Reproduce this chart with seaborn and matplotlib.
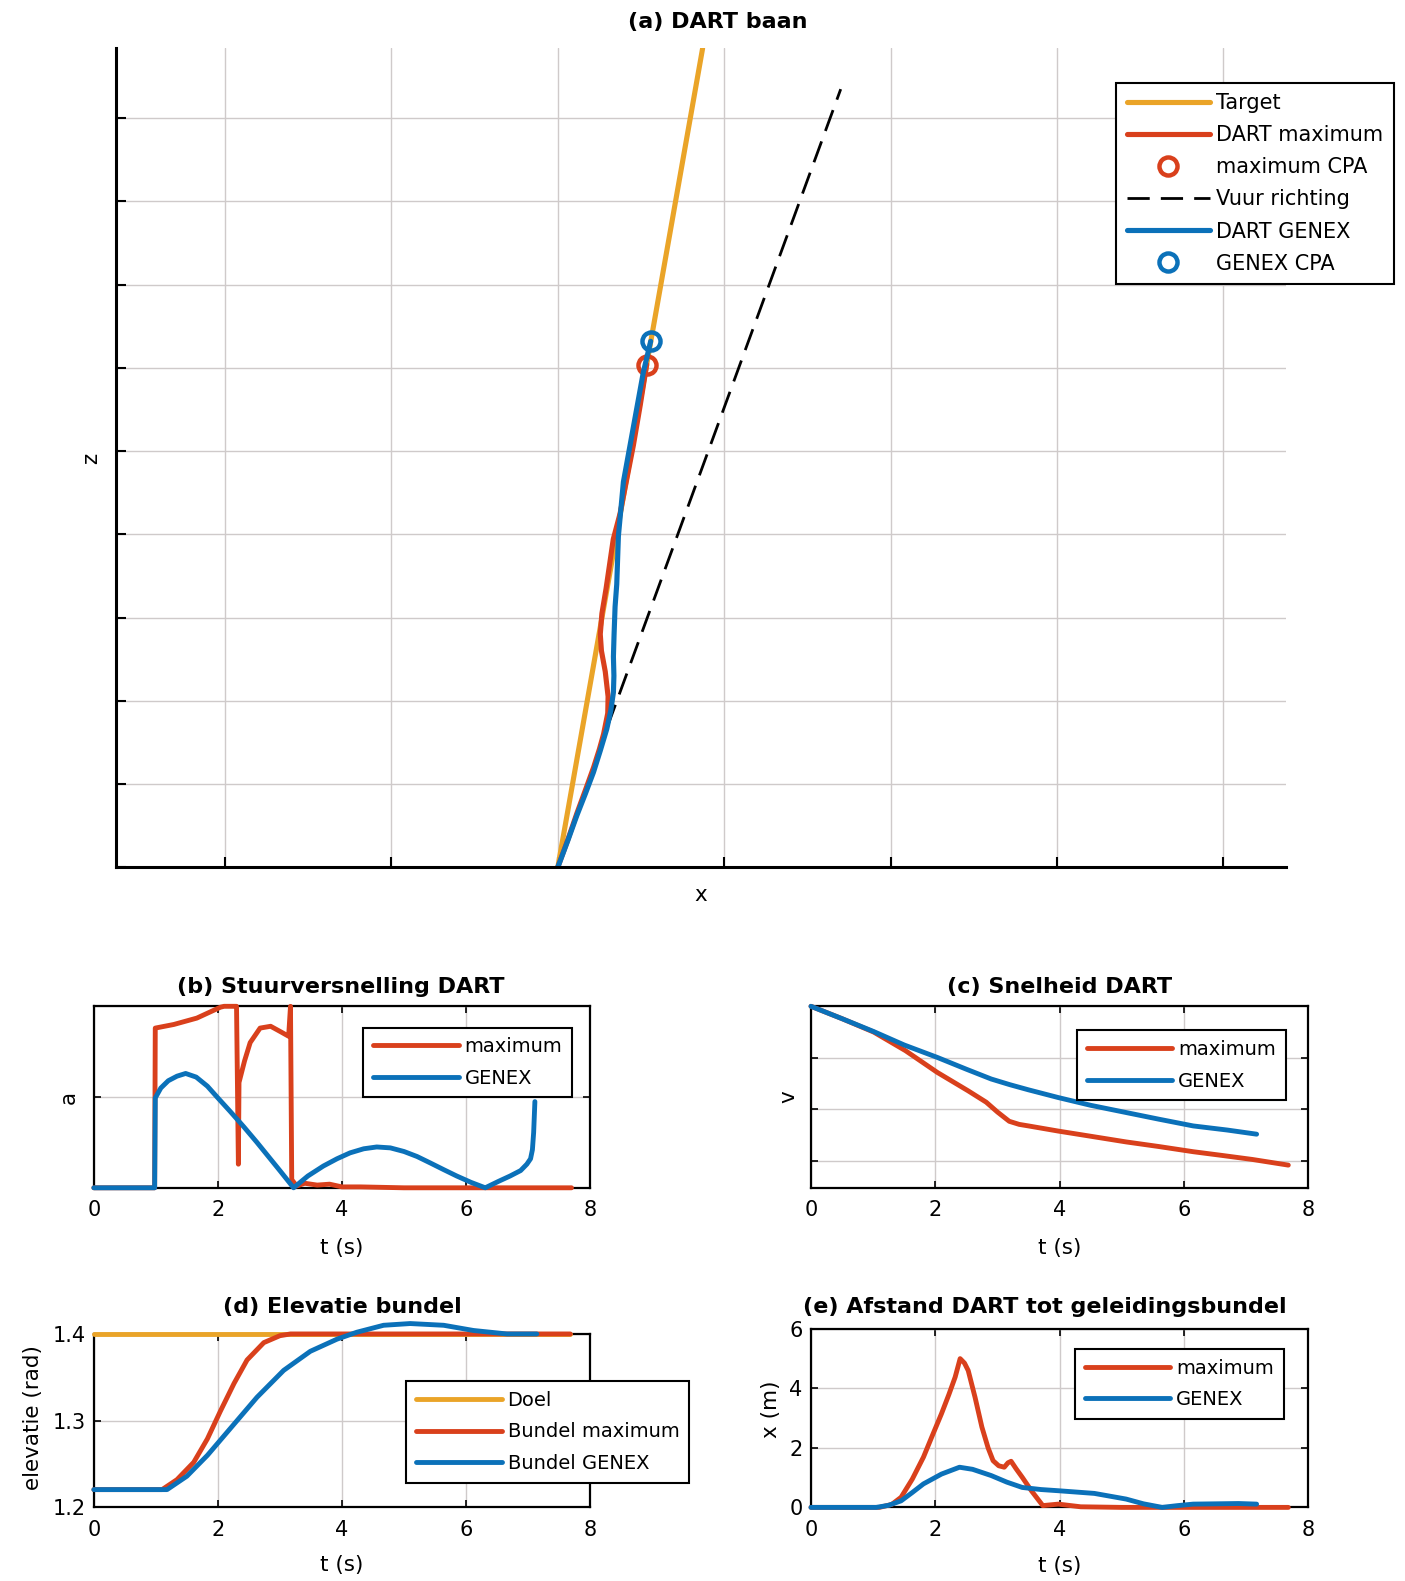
import numpy as np
import pandas as pd
import matplotlib
matplotlib.use("Agg")
import matplotlib.pyplot as plt
import seaborn as sns

ORANGE = "#EAA428"
RED = "#D9401C"
BLUE = "#0B71B9"
GRID = "#cfcaca"

# (a) DART baan -- positions in grid units
target_x = [0.0, 0.87]
target_z = [0.0, 9.84]
max_x = [0.0, 0.06, 0.115, 0.17, 0.215, 0.25, 0.275, 0.30, 0.302, 0.285, 0.262, 0.255, 0.265,
         0.29, 0.333, 0.374, 0.41, 0.454, 0.495, 0.534]
max_z = [0.0, 0.33, 0.65, 0.95, 1.2, 1.42, 1.6, 1.85, 2.05, 2.35, 2.6, 2.8, 3.05,
         3.35, 3.94, 4.25, 4.62, 5.07, 5.55, 6.04]
genex_x = [0.0, 0.06, 0.114, 0.165, 0.214, 0.255, 0.294, 0.318, 0.334, 0.337, 0.334, 0.338,
           0.344, 0.354, 0.364, 0.394, 0.454, 0.514, 0.558]
genex_z = [0.0, 0.32, 0.62, 0.88, 1.14, 1.4, 1.66, 1.88, 2.10, 2.3, 2.53, 2.8,
           3.13, 3.4, 3.98, 4.63, 5.29, 5.95, 6.32]
max_cpa = (0.534, 6.04)
genex_cpa = (0.558, 6.32)
fire_x = [0.30, 1.70]
fire_z = [1.70, 9.35]

# (b) Stuurversnelling
b_t_max = [0, 0.98, 0.99, 1.29, 1.66, 2.04, 2.10, 2.28, 2.30, 2.33, 2.34, 2.43, 2.52, 2.68,
           2.85, 3.01, 3.14, 3.17, 3.19, 3.27, 3.4, 3.6, 3.8, 4.0, 4.3, 5.0, 7.7]
b_a_max = [0, 0, 1.76, 1.80, 1.87, 1.99, 2.0, 2.0, 2.0, 0.26, 1.16, 1.40, 1.60, 1.76,
           1.78, 1.72, 1.67, 2.0, 0.09, 0.02, 0.05, 0.03, 0.04, 0.01, 0.01, 0.0, 0.0]
b_t_gen = [0, 0.98, 0.99, 1.08, 1.2, 1.34, 1.48, 1.65, 1.83, 2.0, 2.2, 2.42, 2.63, 2.82, 3.01,
           3.22, 3.45, 3.70, 3.92, 4.13, 4.35, 4.56, 4.78, 5.0, 5.21, 5.42, 5.64, 5.85, 6.08,
           6.31, 6.52, 6.71, 6.88, 6.98, 7.04, 7.07, 7.09, 7.11]
b_a_gen = [0, 0, 0.99, 1.10, 1.18, 1.23, 1.26, 1.22, 1.12, 0.99, 0.84, 0.67, 0.50, 0.34, 0.18,
           0.0, 0.13, 0.24, 0.32, 0.385, 0.43, 0.45, 0.44, 0.40, 0.345, 0.275, 0.20, 0.13, 0.06,
           0.0, 0.07, 0.13, 0.19, 0.26, 0.32, 0.42, 0.61, 0.95]

# (c) Snelheid
c_t_max = [0, 0.5, 1.01, 1.52, 2.03, 2.53, 2.82, 3.0, 3.19, 3.35, 3.5, 3.98, 4.5, 5.07, 5.6,
           6.15, 6.6, 7.1, 7.68]
c_v_max = [4.0, 3.76, 3.5, 3.14, 2.72, 2.36, 2.14, 1.95, 1.77, 1.71, 1.68, 1.58, 1.48, 1.37,
           1.28, 1.18, 1.11, 1.03, 0.92]
c_t_gen = [0, 0.5, 1.01, 1.5, 2.03, 2.5, 2.9, 3.2, 3.5, 3.98, 4.5, 5.07, 5.6, 6.15, 6.7, 7.17]
c_v_gen = [4.0, 3.76, 3.51, 3.25, 3.01, 2.78, 2.59, 2.48, 2.38, 2.23, 2.08, 1.94, 1.81, 1.68,
           1.60, 1.52]

# (d) Elevatie bundel
d_t_doel = [0, 7.68]
d_e_doel = [1.4, 1.4]
d_t_max = [0, 1.10, 1.34, 1.61, 1.83, 2.04, 2.26, 2.47, 2.74, 3.0, 3.17, 7.68]
d_e_max = [1.2205, 1.2205, 1.232, 1.252, 1.279, 1.311, 1.343, 1.370, 1.390, 1.398, 1.4, 1.4]
d_t_gen = [0, 1.18, 1.5, 1.83, 2.2, 2.63, 3.06, 3.49, 3.92, 4.24, 4.67, 5.1, 5.64, 6.12,
           6.66, 7.14]
d_e_gen = [1.2205, 1.2205, 1.236, 1.26, 1.291, 1.327, 1.358, 1.38, 1.394, 1.402, 1.41, 1.412,
           1.41, 1.404, 1.4, 1.4]

# (e) Afstand tot geleidingsbundel
e_t_max = [0, 1.1, 1.3, 1.45, 1.63, 1.81, 1.95, 2.1, 2.22, 2.32, 2.40, 2.47, 2.53, 2.64, 2.75,
           2.85, 2.93, 3.02, 3.11, 3.17, 3.22, 3.3, 3.40, 3.55, 3.73, 3.98, 4.34, 5.0, 7.68]
e_x_max = [0, 0, 0.1, 0.34, 0.95, 1.69, 2.4, 3.15, 3.8, 4.38, 5.0, 4.85, 4.6, 3.7, 2.7,
           2.0, 1.57, 1.4, 1.35, 1.5, 1.55, 1.3, 1.01, 0.55, 0.06, 0.11, 0.02, 0.0, 0.0]
e_t_gen = [0, 1.05, 1.25, 1.45, 1.63, 1.81, 2.1, 2.39, 2.6, 2.9, 3.15, 3.40, 3.7, 3.98, 4.56,
           5.07, 5.35, 5.65, 5.9, 6.15, 6.88, 7.17]
e_x_gen = [0, 0, 0.07, 0.22, 0.5, 0.79, 1.12, 1.35, 1.28, 1.07, 0.85, 0.67, 0.6, 0.56, 0.47,
           0.28, 0.12, 0.0, 0.06, 0.11, 0.13, 0.11]


def line(ax, x, y, color, label, lw=3.5, **kw):
	sns.lineplot(x=x, y=y, sort=False, estimator=None, color=color, lw=lw,
				 label=label, ax=ax, **kw)


def legend(ax, anchor, fs=14, hl=4.4, ls=0.64):
	leg = ax.legend(loc='upper left', bbox_to_anchor=anchor, fontsize=fs, handlelength=hl,
					handletextpad=0.3, borderpad=0.5, labelspacing=ls, borderaxespad=0,
					frameon=True, fancybox=False, framealpha=1, edgecolor='black')
	leg.get_frame().set_linewidth(1.5)
	leg.set_zorder(5)
	return leg


def style_small(ax, title, tx, ty, ylabel, ylx, yly, ylim, yticks, ylabels):
	ax.set_xlim(0, 8)
	ax.set_ylim(*ylim)
	ax.set_xticks([0, 2, 4, 6, 8])
	ax.set_yticks(yticks)
	ax.set_yticklabels(ylabels)
	ax.grid(True, color=GRID, lw=1.0)
	ax.set_axisbelow(True)
	for s in ax.spines.values():
		s.set_visible(True)
		s.set_color('black')
		s.set_linewidth(1.6)
	ax.tick_params(direction='in', length=5, width=1.2, colors='black', labelsize=15,
				   top=True, right=True, left=True, bottom=True)
	ax.tick_params(axis='x', pad=9)
	ax.tick_params(axis='y', pad=6)
	ax.set_xlabel('t (s)', fontsize=15.5)
	ax.xaxis.set_label_coords(0.5, -0.33)
	ax.xaxis.label.set_va('center')
	ax.set_ylabel(ylabel, fontsize=15.5)
	ax.yaxis.set_label_coords(ylx, yly)
	ax.yaxis.label.set_va('center')
	ax.text(tx, ty, title, transform=ax.transAxes, ha='center', va='center',
			fontsize=16, fontweight='bold')


def main():
	sns.set_theme(style="whitegrid")
	plt.rcParams['font.family'] = ['DejaVu Sans']
	plt.rcParams['axes.facecolor'] = 'white'
	plt.rcParams['text.color'] = 'black'
	plt.rcParams['axes.labelcolor'] = 'black'

	fig = plt.figure(figsize=(14.05, 15.81), dpi=100)

	# (a)
	ax = fig.add_axes([0.0826, 0.4515, 0.8327, 0.5179])
	line(ax, target_x, target_z, ORANGE, 'Target', lw=3.7)
	line(ax, max_x, max_z, RED, 'DART maximum', lw=3.7)
	sns.lineplot(x=[max_cpa[0]], y=[max_cpa[1]], marker='o', ms=13, mfc='none', mec=RED,
				 mew=3.2, ls='', label='maximum CPA', ax=ax)
	sns.lineplot(x=fire_x, y=fire_z, color='black', lw=2, linestyle=(0, (8, 4)),
				 label='Vuur richting', ax=ax)
	line(ax, genex_x, genex_z, BLUE, 'DART GENEX', lw=3.7)
	sns.lineplot(x=[genex_cpa[0]], y=[genex_cpa[1]], marker='o', ms=13, mfc='none', mec=BLUE,
				 mew=3.2, ls='', label='GENEX CPA', ax=ax)
	ax.set_xlim(-2.655, 4.376)
	ax.set_ylim(0, 9.84)
	ax.set_xticks(range(-2, 5))
	ax.set_yticks(range(0, 10))
	ax.set_xticklabels([])
	ax.set_yticklabels([])
	ax.grid(True, color=GRID, lw=1.0)
	ax.set_axisbelow(True)
	ax.spines['top'].set_visible(False)
	ax.spines['right'].set_visible(False)
	for s in ['left', 'bottom']:
		ax.spines[s].set_color('black')
		ax.spines[s].set_linewidth(2.2)
	ax.tick_params(direction='in', length=7, width=1.5, colors='black', left=True, bottom=True)
	ax.set_xlabel('x', fontsize=15.5)
	ax.xaxis.set_label_coords(0.5, -0.0345)
	ax.xaxis.label.set_va('center')
	ax.set_ylabel('z', fontsize=15.5)
	ax.yaxis.set_label_coords(-0.0216, 0.499)
	ax.yaxis.label.set_va('center')
	ax.text(0.514, 1.032, '(a) DART baan', transform=ax.transAxes, ha='center', va='center',
			fontsize=16, fontweight='bold')
	legend(ax, (0.855, 0.958), fs=15, hl=4.0, ls=0.58)

	# (b)
	ax = fig.add_axes([0.0668, 0.2487, 0.3532, 0.1148])
	line(ax, b_t_max, b_a_max, RED, 'maximum', clip_on=False, zorder=3)
	line(ax, b_t_gen, b_a_gen, BLUE, 'GENEX', clip_on=False, zorder=3)
	style_small(ax, '(b) Stuurversnelling DART', 0.498, 1.106, 'a', -0.051, 0.5,
				(0, 2), [0, 1, 2], ['', '', ''])
	legend(ax, (0.543, 0.883))

	# (c)
	ax = fig.add_axes([0.5772, 0.2487, 0.3539, 0.1148])
	line(ax, c_t_max, c_v_max, RED, 'maximum', clip_on=False, zorder=3)
	line(ax, c_t_gen, c_v_gen, BLUE, 'GENEX', clip_on=False, zorder=3)
	style_small(ax, '(c) Snelheid DART', 0.499, 1.106, 'v', -0.045, 0.5,
				(0.48, 4), [1, 2, 3, 4], ['', '', '', ''])
	legend(ax, (0.535, 0.867))

	# (d)
	ax = fig.add_axes([0.0668, 0.04656, 0.3532, 0.1097])
	line(ax, d_t_doel, d_e_doel, ORANGE, 'Doel', clip_on=False, zorder=3)
	line(ax, d_t_max, d_e_max, RED, 'Bundel maximum', clip_on=False, zorder=3)
	line(ax, d_t_gen, d_e_gen, BLUE, 'Bundel GENEX', clip_on=False, zorder=3)
	style_small(ax, '(d) Elevatie bundel', 0.5, 1.157, 'elevatie (rad)', -0.122, 0.517,
				(1.2, 1.4), [1.2, 1.3, 1.4], ['1.2', '1.3', '1.4'])
	legend(ax, (0.63, 0.727))

	# (e)
	ax = fig.add_axes([0.5772, 0.04656, 0.3539, 0.1129])
	line(ax, e_t_max, e_x_max, RED, 'maximum', clip_on=False, zorder=3)
	line(ax, e_t_gen, e_x_gen, BLUE, 'GENEX', clip_on=False, zorder=3)
	style_small(ax, '(e) Afstand DART tot geleidingsbundel', 0.47, 1.124, 'x (m)', -0.081, 0.548,
				(0, 6), [0, 2, 4, 6], ['0', '2', '4', '6'])
	legend(ax, (0.531, 0.887))

	fig.savefig('out.png', dpi=100)


if __name__ == "__main__":
	main()
